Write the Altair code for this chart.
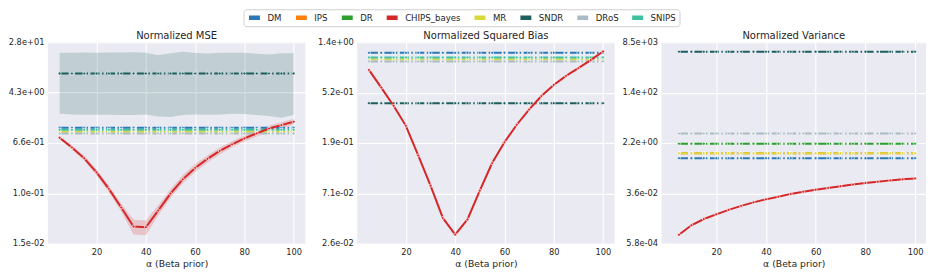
import altair as alt
import pandas as pd
import numpy as np

alpha = [5, 10, 15, 20, 25, 30, 35, 40, 45, 50, 55, 60, 65, 70, 75, 80, 85, 90, 95, 100]
methods = ["DM", "IPS", "DR", "CHIPS_bayes", "MR", "SNDR", "DRoS", "SNIPS"]
palette = ["#2a78b6", "#ff7f0e", "#2ca02c", "#d62728", "#d8d83a", "#1d5f5f", "#a9bcc6", "#3cc1a1"]

titles = ["Normalized MSE", "Normalized Squared Bias", "Normalized Variance"]
x_ticks = [20, 40, 60, 80, 100]
x_title = "α (Beta prior)"

# ---- Normalized MSE ----
mse_ylim = [0.0152, 28.4]
mse_ylabels = ["1.5e-02", "1.0e-01", "6.6e-01", "4.3e+00", "2.8e+01"]
mse_flat = {"DM": 1.16, "MR": 1.0, "SNDR": 8.8, "DRoS": 0.94, "SNIPS": 1.08}
mse_chips = [0.80, 0.557, 0.370, 0.219, 0.118, 0.0589, 0.029, 0.0282, 0.0526, 0.0993,
             0.169, 0.259, 0.362, 0.488, 0.624, 0.780, 0.94, 1.13, 1.28, 1.45]
mse_chips_lo = [0.756, 0.517, 0.337, 0.196, 0.104, 0.0507, 0.0215, 0.0209, 0.0437, 0.0839,
                0.146, 0.223, 0.318, 0.428, 0.558, 0.697, 0.840, 1.010, 1.144, 1.296]
mse_chips_hi = [0.846, 0.600, 0.406, 0.245, 0.134, 0.0684, 0.0372, 0.0362, 0.0634, 0.117,
                0.196, 0.301, 0.412, 0.556, 0.698, 0.873, 1.052, 1.264, 1.432, 1.622]
mse_sndr_lo = [1.96, 1.91, 1.89, 1.89, 1.88, 1.87, 1.87, 1.91, 1.77, 1.73,
               1.87, 1.91, 1.89, 1.91, 1.96, 1.94, 1.87, 1.80, 1.69, 1.87]
mse_sndr_hi = [19.1, 19.1, 19.3, 19.1, 19.3, 19.4, 19.5, 19.2, 17.5, 18.8,
               19.8, 19.0, 18.6, 19.1, 19.2, 19.2, 18.4, 17.9, 18.8, 18.8]

# ---- Normalized Squared Bias ----
bias_ylim = [0.026, 1.42]
bias_ylabels = ["2.6e-02", "7.1e-02", "1.9e-01", "5.2e-01", "1.4e+00"]
bias_flat = {"DM": 1.15, "MR": 1.01, "SNDR": 0.423, "DRoS": 0.97, "SNIPS": 1.05}
bias_chips = [0.819, 0.577, 0.402, 0.270, 0.150, 0.0824, 0.0434, 0.0312, 0.0421, 0.0746,
              0.129, 0.195, 0.276, 0.373, 0.488, 0.608, 0.727, 0.849, 0.995, 1.18]

# ---- Normalized Variance ----
var_ylim = [5.8e-4, 8.5e3]
var_ylabels = ["5.8e-04", "3.6e-02", "2.2e+00", "1.4e+02", "8.5e+03"]
var_flat = {"DM": 0.641, "IPS": 0.966, "DR": 2.08, "MR": 0.966, "SNDR": 3910, "DRoS": 4.82}
var_chips = [0.00121, 0.00263, 0.00440, 0.00645, 0.00933, 0.0129, 0.0172, 0.0220, 0.0274, 0.0344,
             0.0413, 0.0485, 0.0562, 0.0646, 0.0736, 0.0832, 0.0933, 0.104, 0.113, 0.122]

FONT = "DejaVu Sans"
TXT = "#262626"


def panel(title, ylim, ylabels, flat, chips, width, xdom,
          chips_lo=None, chips_hi=None, band_lo=None, band_hi=None, band_method="SNDR"):
    ticks = list(np.logspace(np.log10(ylim[0]), np.log10(ylim[1]), 5))
    parts = [f"abs(log(datum.value) - ({np.log(t):.6f})) < 0.05 ? '{lab}'" for t, lab in zip(ticks, ylabels)]
    expr = " : ".join(parts) + " : ''"

    xenc = alt.X("x:Q", scale=alt.Scale(domain=xdom, nice=False, zero=False),
                 axis=alt.Axis(values=x_ticks, title=x_title, format="d", labelPadding=4, titlePadding=3))
    yscale = alt.Scale(type="log", domain=ylim, nice=False)
    yaxis = alt.Axis(values=ticks, labelExpr=expr, title=None, labelPadding=4)
    yenc = alt.Y("y:Q", scale=yscale, axis=yaxis)
    color = alt.Color("method:N", scale=alt.Scale(domain=methods, range=palette),
                      legend=alt.Legend(title=None, orient="none", direction="horizontal",
                                        legendX=196, legendY=-33, gridAlign="none"))

    layers = []
    if band_lo is not None:
        bdf = pd.DataFrame({"x": alpha, "y": band_lo, "hi": band_hi})
        layers.append(alt.Chart(bdf).mark_area(color=palette[methods.index(band_method)], opacity=0.2)
                      .encode(x=xenc, y=yenc, y2="hi:Q"))
    if chips_lo is not None:
        cdf = pd.DataFrame({"x": alpha, "y": chips_lo, "hi": chips_hi})
        layers.append(alt.Chart(cdf).mark_area(color=palette[3], opacity=0.2)
                      .encode(x=xenc, y=yenc, y2="hi:Q"))

    rows = []
    for m, v in flat.items():
        for a in alpha:
            rows.append({"x": a, "y": v, "method": m})
    fdf = pd.DataFrame(rows)
    layers.append(alt.Chart(fdf).mark_line(
        strokeDash=[9, 2.5, 1.5, 2.5], strokeWidth=2,
        point=alt.OverlayMarkDef(filled=True, size=9, stroke="white", strokeWidth=0.7))
        .encode(x=xenc, y=yenc, color=color))

    chdf = pd.DataFrame({"x": alpha, "y": chips, "method": "CHIPS_bayes"})
    layers.append(alt.Chart(chdf).mark_line(
        strokeWidth=2,
        point=alt.OverlayMarkDef(filled=True, size=9, stroke="white", strokeWidth=0.7))
        .encode(x=xenc, y=yenc, color=color))

    return alt.layer(*layers).properties(width=width, height=202, title=title)


p1 = panel(titles[0], mse_ylim, mse_ylabels, mse_flat, mse_chips, 258, [0.25, 104.75],
           chips_lo=mse_chips_lo, chips_hi=mse_chips_hi, band_lo=mse_sndr_lo, band_hi=mse_sndr_hi)
p2 = panel(titles[1], bias_ylim, bias_ylabels, bias_flat, bias_chips, 258, [0.25, 104.75])
p3 = panel(titles[2], var_ylim, var_ylabels, var_flat, var_chips, 265, [-2.0, 104.4])

chart = alt.hconcat(alt.hconcat(p1, p2, spacing=12), p3, spacing=7).properties(padding=0)

chart = (chart
         .configure_view(fill="#EAEAF2", stroke=None)
         .configure_axis(gridColor="white", gridWidth=1.1, domain=False, ticks=False,
                         labelFont=FONT, labelFontSize=8.3, labelColor=TXT,
                         titleFont=FONT, titleFontSize=9.3, titleFontWeight="normal", titleColor=TXT)
         .configure_title(font=FONT, fontSize=10, fontWeight="normal", color=TXT, offset=-3.5,
                          frame="group")
         .configure_legend(symbolType="stroke", symbolStrokeWidth=4.5, symbolSize=120,
                           labelFont=FONT, labelFontSize=8.6, labelColor=TXT,
                           fillColor="white", strokeColor="#d0d0d0", padding=3, cornerRadius=3,
                           columnPadding=11, labelOffset=5, symbolDash=[1, 0],
                           clipHeight=11, rowPadding=0, symbolOffset=0))

chart.save("out.html", embed_options={"renderer": "svg", "actions": False})
